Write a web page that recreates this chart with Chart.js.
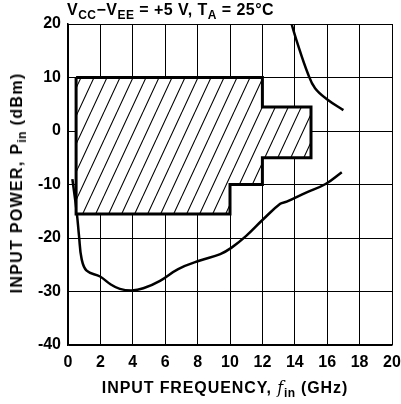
<!DOCTYPE html>
<html>
<head>
    <title>Input Power vs Frequency</title>
    <script src="https://cdn.jsdelivr.net/npm/chart.js"></script>
    <style>
        body { margin: 0; background: #fff; }
        #wrap { position: relative; width: 401px; height: 404px; font-family: "Liberation Sans", Arial, sans-serif; font-weight: bold; color: #000; }
        #chart { position: absolute; left: 0; top: 0; }
        .lbl { position: absolute; white-space: nowrap; font-size: 16px; letter-spacing: 0.9px; line-height: 18px; }
        .lbl sub { font-size: 12px; vertical-align: -4px; line-height: 0; letter-spacing: 0.5px; }
        #title { left: 67px; top: 1px; letter-spacing: 0.45px; }
        #xTitle { left: 225px; top: 379px; transform: translateX(-50%); }
        #yTitle { left: 17px; top: 183px; transform: translate(-50%, -50%) rotate(-90deg); letter-spacing: 1.3px; }
        .fi { font-family: "DejaVu Serif", serif; font-style: italic; font-weight: normal; }
    </style>
</head>
<body>
<div id="wrap">
    <canvas id="chart" width="401" height="404"></canvas>
    <div class="lbl" id="title">V<sub>CC</sub>&minus;V<sub>EE</sub> = +5 V, T<sub>A</sub> = 25&deg;C</div>
    <div class="lbl" id="xTitle">INPUT FREQUENCY, <span class="fi">f</span><sub>in</sub> (GHz)</div>
    <div class="lbl" id="yTitle">INPUT POWER, P<sub>in</sub> (dBm)</div>
</div>

<script>
    // operating window (closed outline)
    const windowX = [0.5, 12, 12, 15, 15, 12, 12, 10, 10, 0.5, 0.5];
    const windowY = [10, 10, 4.5, 4.5, -5, -5, -10, -10, -15.5, -15.5, 10];

    // upper sensitivity curve
    const upperX = [13.8, 14.1, 14.8, 15.25, 16.05, 17.0];
    const upperY = [20, 17.0, 10.8, 8.0, 5.8, 3.9];

    // lower sensitivity curve
    const lowerX = [0.27, 0.54, 0.68, 0.84, 1.15, 1.98, 2.6, 3.2, 3.93, 4.65, 5.68, 6.8, 8.15, 9.4, 10.1, 11.0, 12.05, 13.1, 13.5, 14.7, 15.9, 16.9];
    const lowerY = [-9, -15.2, -19.6, -23.9, -26.1, -27.2, -28.6, -29.5, -29.8, -29.4, -28.0, -25.8, -24.2, -23.0, -21.8, -19.6, -16.5, -13.6, -13.2, -11.5, -9.9, -7.7];

    const pts = (xs, ys) => xs.map((x, i) => ({ x: x, y: ys[i] }));

    // diagonal hatch
    function hatch() {
        const w = 13, h = 28;
        const c = document.createElement('canvas');
        c.width = w; c.height = h;
        const g = c.getContext('2d');
        g.fillStyle = '#fff';
        g.fillRect(0, 0, w, h);
        g.strokeStyle = '#000';
        g.lineWidth = 1.1;
        g.beginPath();
        [-w, 0, w].forEach(o => { g.moveTo(o, h); g.lineTo(o + w, 0); });
        g.stroke();
        return g.createPattern(c, 'repeat');
    }

    const font = { family: '"Liberation Sans", Arial, sans-serif', weight: 'bold', size: 16 };

    new Chart(document.getElementById('chart'), {
        type: 'line',
        data: {
            datasets: [
                {
                    data: pts(windowX, windowY),
                    borderColor: '#000', borderWidth: 3, backgroundColor: hatch(),
                    fill: 'shape', pointRadius: 0, tension: 0
                },
                {
                    data: pts(upperX, upperY),
                    borderColor: '#000', borderWidth: 2.5, fill: false, pointRadius: 0, tension: 0.4
                },
                {
                    data: pts(lowerX, lowerY),
                    borderColor: '#000', borderWidth: 2.5, fill: false, pointRadius: 0, tension: 0.4
                }
            ]
        },
        options: {
            responsive: false,
            animation: false,
            layout: { padding: { top: 24, right: 9, left: 0, bottom: 0 } },
            plugins: { legend: { display: false }, tooltip: { enabled: false } },
            scales: {
                x: {
                    type: 'linear', min: 0, max: 20,
                    afterFit: s => { s.height = 59; s.paddingLeft = 0; s.paddingRight = 0; },
                    ticks: { stepSize: 2, color: '#000', font: font, padding: 8, maxRotation: 0 },
                    grid: { color: '#000', lineWidth: 1, drawTicks: false },
                    border: { color: '#000', width: 1.5 }
                },
                y: {
                    min: -40, max: 20,
                    afterFit: s => { s.width = 68; s.paddingTop = 0; s.paddingBottom = 0; },
                    ticks: { stepSize: 10, color: '#000', font: font, padding: 7 },
                    grid: { color: '#000', lineWidth: 1, drawTicks: false },
                    border: { color: '#000', width: 1.5 }
                }
            }
        }
    });
</script>
</body>
</html>
